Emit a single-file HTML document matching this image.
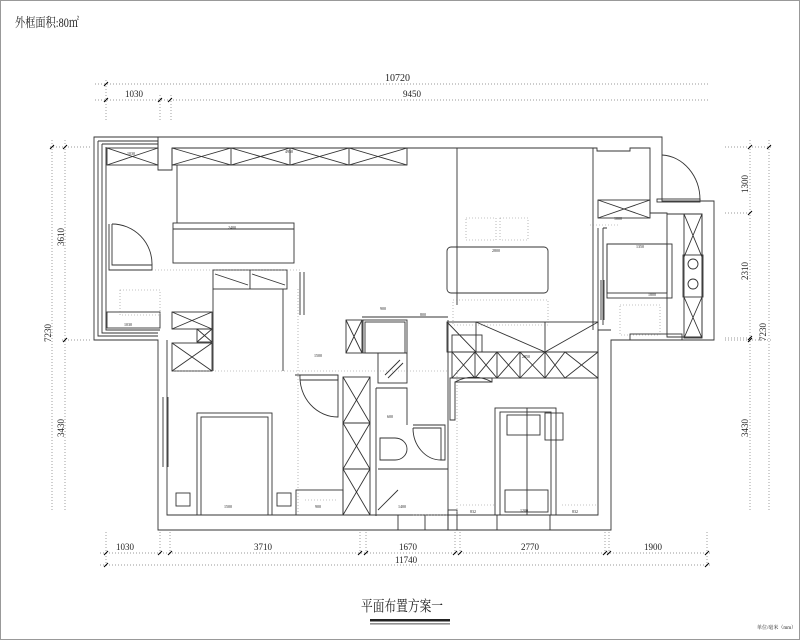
<!DOCTYPE html>
<html><head><meta charset="utf-8"><style>
html,body{margin:0;padding:0;background:#fff}
svg{display:block}
text{font-family:"Liberation Serif","Noto Serif CJK SC",serif;fill:#222}
.s{font-family:"Liberation Sans",sans-serif;font-size:4px;fill:#333}
</style></head><body>
<svg width="800" height="640" viewBox="0 0 800 640" xmlns="http://www.w3.org/2000/svg">
<rect x="0.5" y="0.5" width="799" height="639" fill="#fff" stroke="#999"/>
<text x="15" y="27" font-size="13" textLength="64" lengthAdjust="spacingAndGlyphs">外框面积:80㎡</text>

<g stroke="#777" stroke-width="0.7" stroke-dasharray="1,2" fill="none">
<line x1="95" y1="84" x2="710" y2="84"/><line x1="95" y1="100" x2="710" y2="100"/>
<line x1="106" y1="80" x2="106" y2="120"/><line x1="160" y1="95" x2="160" y2="120"/><line x1="171" y1="95" x2="171" y2="120"/>
<line x1="100" y1="553" x2="710" y2="553"/><line x1="100" y1="565" x2="710" y2="565"/>
<line x1="106" y1="532" x2="106" y2="568"/><line x1="160" y1="532" x2="160" y2="555"/><line x1="170" y1="532" x2="170" y2="555"/>
<line x1="360" y1="532" x2="360" y2="555"/><line x1="366" y1="532" x2="366" y2="555"/>
<line x1="455" y1="532" x2="455" y2="555"/><line x1="460" y1="532" x2="460" y2="555"/>
<line x1="605" y1="532" x2="605" y2="555"/><line x1="609" y1="532" x2="609" y2="555"/>
<line x1="707" y1="532" x2="707" y2="568"/>
<line x1="52" y1="140" x2="52" y2="510"/><line x1="65" y1="140" x2="65" y2="510"/>
<line x1="50" y1="147" x2="90" y2="147"/><line x1="62" y1="340" x2="90" y2="340"/>
<line x1="750" y1="140" x2="750" y2="510"/><line x1="769" y1="140" x2="769" y2="510"/>
<line x1="725" y1="147" x2="772" y2="147"/><line x1="725" y1="213" x2="752" y2="213"/><line x1="725" y1="338" x2="752" y2="338"/><line x1="725" y1="340" x2="772" y2="340"/>
</g>
<g stroke="#000" stroke-width="1">
<path d="M104 102l4-4M158 102l4-4M168 102l4-4M104 86l4-4M50 149l4-4M63 149l4-4M63 342l4-4M748 149l4-4M767 149l4-4M748 215l4-4M748 340l4-4M748 342l4-4M104 555l4-4M158 555l4-4M168 555l4-4M358 555l4-4M364 555l4-4M453 555l4-4M458 555l4-4M603 555l4-4M607 555l4-4M705 555l4-4M104 567l4-4M705 567l4-4"/>
</g>
<g font-size="9">
<text x="385" y="81" font-size="10">10720</text>
<text x="125" y="97">1030</text><text x="403" y="97">9450</text>
<text x="116" y="550">1030</text><text x="254" y="550">3710</text><text x="399" y="550">1670</text><text x="521" y="550">2770</text><text x="644" y="550">1900</text>
<text x="395" y="563">11740</text>
<text transform="translate(64,246) rotate(-90)">3610</text>
<text transform="translate(51,342) rotate(-90)">7230</text>
<text transform="translate(64,437) rotate(-90)">3430</text>
<text transform="translate(748,193) rotate(-90)">1300</text>
<text transform="translate(748,280) rotate(-90)">2310</text>
<text transform="translate(766,341) rotate(-90)">7230</text>
<text transform="translate(748,437) rotate(-90)">3430</text>
</g>

<g stroke="#333" stroke-width="0.9" fill="none">
<path d="M94 137H662V201H714V340H611V530H158V340H94Z"/>
<path d="M98 141H158V150M98 141V336H158"/>
<path d="M102 144H158M102 144V333H158"/>
<path d="M106 147V330H160"/>
<path d="M172 148H597V151H630V148H650V213H667V337H702V214H667"/>
<path d="M167 340V515H598V340"/>
<path d="M158 137V170H172V148"/>
<path d="M598 340V330H611"/>
<rect x="107" y="148" width="51" height="17"/><path d="M107 148L158 165M107 165L158 148"/>
<rect x="172" y="148" width="235" height="17"/>
<path d="M231 148V165M290 148V165M349 148V165M172 148L231 165L290 148L349 165L407 148M172 165L231 148L290 165L349 148L407 165"/>
<line x1="177" y1="165" x2="177" y2="223"/>
<rect x="173" y="223" width="121" height="40"/><line x1="173" y1="229" x2="294" y2="229"/>
<path d="M109 224V270H152V265H112V224"/><path d="M112 224A40 40 0 0 1 152 265"/>
<rect x="107" y="312" width="53" height="16"/>
<rect x="172" y="312" width="40" height="17"/><path d="M172 312L212 329M172 329L212 312"/>
<rect x="197" y="329" width="15" height="13"/><path d="M197 329L212 342M197 342L212 329"/>
<rect x="172" y="343" width="40" height="28"/><path d="M172 343L212 371M172 371L212 343"/>
<rect x="213" y="270" width="74" height="19"/><path d="M250 270V289M215 274L248 285M252 274L285 285"/>
<line x1="213" y1="289" x2="213" y2="371"/>
<line x1="283" y1="289" x2="283" y2="371"/>
<line x1="300" y1="272" x2="300" y2="315"/><line x1="304" y1="272" x2="304" y2="315"/>
<rect x="346" y="320" width="16" height="33"/><path d="M346 320L362 353M346 353L362 320"/>
<rect x="363" y="320" width="44" height="33"/><rect x="365" y="322" width="40" height="31"/>
<line x1="362" y1="317" x2="448" y2="317"/>
<rect x="378" y="353" width="29" height="30"/><path d="M385 375L400 360M388 378L403 363"/>
<rect x="343" y="377" width="27" height="138"/>
<path d="M343 377L370 423L343 469L370 515M370 377L343 423L370 469L343 515M343 423H370M343 469H370"/>
<path d="M376 388V516M376 388H407V425"/>
<path d="M380 438h15a12 11 0 0 1 0 22h-15z"/>
<path d="M378 469H448M378 510L398 490"/>
<path d="M376 515H448V530"/>
<path d="M413 425H445V460H441V428H413"/><path d="M413 428A28 32 0 0 0 441 460"/>
<line x1="448" y1="320" x2="448" y2="515"/>
<path d="M295 375H338V380H300"/><path d="M300 375A38 40 0 0 0 338 417V375"/>
<rect x="197" y="413" width="75" height="102"/><rect x="201" y="417" width="67" height="98"/>
<path d="M163 397V467M168 397V467"/>
<rect x="176" y="493" width="14" height="13"/><rect x="277" y="493" width="14" height="13"/>
<rect x="296" y="490" width="47" height="25"/>
<rect x="447" y="247" width="101" height="46" rx="4"/>
<path d="M457 148V305M593 148V330"/>
<rect x="447" y="322" width="151" height="30"/>
<path d="M476 322L545 352L598 322M447 322L476 352L447 352M476 322V352M545 322V352"/>
<rect x="452" y="335" width="30" height="17"/>
<rect x="452" y="352" width="146" height="26"/>
<path d="M452 352L475 378L497 352L520 378L545 352L565 378L598 352M452 378L475 352L497 378L520 352L545 378L565 352L598 378M475 352V378M497 352V378M520 352V378M545 352V378"/>
<path d="M450 378H492V382H455V420H450Z"/><path d="M455 382A38 38 0 0 1 492 382"/>
<rect x="495" y="408" width="61" height="107"/><rect x="500" y="412" width="51" height="103"/>
<rect x="507" y="415" width="33" height="20"/><rect x="545" y="413" width="18" height="27"/>
<rect x="505" y="490" width="43" height="22"/>
<line x1="527" y1="408" x2="527" y2="515"/>
<rect x="448" y="510" width="9" height="20"/>
<rect x="497" y="515" width="53" height="15"/><rect x="398" y="515" width="27" height="15"/>
<rect x="598" y="200" width="52" height="18"/><path d="M598 200L650 218M598 218L650 200"/>
<path d="M662 155A40 45 0 0 1 700 200"/><rect x="657" y="199" width="43" height="3"/>
<rect x="607" y="244" width="65" height="54"/><rect x="607" y="244" width="60" height="49"/>
<rect x="684" y="214" width="18" height="124"/>
<path d="M684 214L702 257M702 214L684 257M684 297L702 338M702 297L684 338"/>
<rect x="683" y="255" width="20" height="42"/>
<circle cx="693" cy="264" r="5"/><circle cx="693" cy="284" r="5"/>
<path d="M598 228V325M603 228H607M603 228V325"/>
<path d="M601 280V320M604 280V320"/>
<rect x="630" y="334" width="52" height="6"/>
</g>
<g stroke="#888" stroke-width="0.6" stroke-dasharray="1,2" fill="none">
<path d="M155 270H300M120 290h40v25h-40zM298 289V515M173 371H448M453 300h95v25h-95zM466 218h30v22h-30zM500 218h28v22h-28zM620 305h40v30h-40zM305 500h32M460 505h35M562 505h35M590 225h30M457 370V515M413 515H448"/>
</g>
<g class="s">
<text x="127" y="155">1030</text><text x="285" y="153">4950</text><text x="228" y="229">2400</text>
<text x="124" y="326">1030</text><text x="492" y="252">2800</text><text x="636" y="248">1350</text>
<text x="614" y="220">1000</text><text x="522" y="358">2850</text><text x="520" y="512">1200</text>
<text x="224" y="508">1500</text><text x="398" y="508">1400</text><text x="315" y="508">900</text>
<text x="470" y="513">832</text><text x="572" y="513">832</text><text x="380" y="310">900</text><text x="420" y="316">800</text>
<text x="314" y="357">1500</text><text x="387" y="418">600</text><text x="648" y="296">1800</text>
</g>

<text x="361" y="611" font-size="15" textLength="82" lengthAdjust="spacingAndGlyphs">平面布置方案一</text>
<rect x="370" y="619" width="80" height="2.5" fill="#222"/>
<rect x="370" y="623.5" width="80" height="0.8" fill="#222"/>
<text x="757" y="629" font-size="5" font-family="Liberation Sans,Noto Sans CJK SC,sans-serif">单位/毫米（mm）</text>
</svg>
</body></html>
